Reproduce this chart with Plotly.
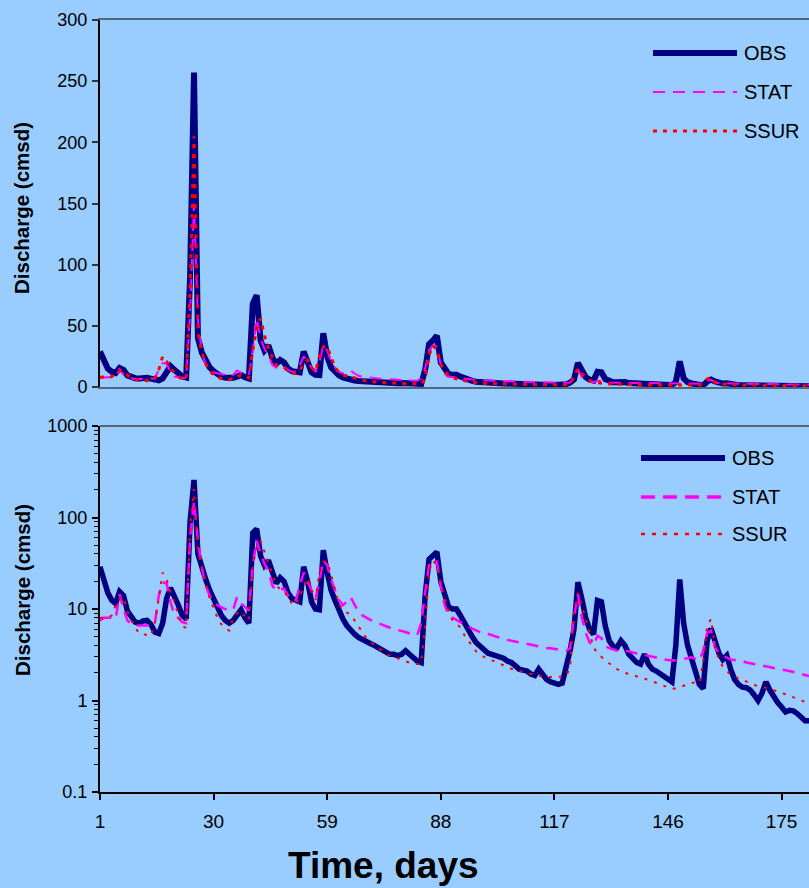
import plotly.graph_objects as go

# ---------------- data (daily discharge, cmsd) ----------------
days = list(range(1, 183))

obs = [29, 21, 15, 12.5, 11.5, 15.5, 14, 9.5, 8, 7.2,
       7, 7.4, 7.5, 6.8, 5.6, 5.4, 7, 13, 17, 14,
       11, 8.5, 7.8, 90, 257, 40, 28, 21, 16, 13,
       10.5, 8.5, 7.5, 7, 7.5, 8.5, 9.8, 8, 7, 68,
       75, 38, 30, 34, 24, 19, 22, 20, 15, 13,
       12.5, 12, 29, 20, 12, 10, 9.8, 44, 25, 16,
       12.4, 9.5, 7.8, 6.6, 5.8, 5.3, 4.9, 4.6, 4.4, 4.2,
       4, 3.8, 3.6, 3.3, 3.2, 3.2, 3.1, 3.2, 3.5, 3.2,
       2.9, 2.7, 2.6, 14, 35, 38, 42, 20, 14, 10.5,
       10, 10, 8.5, 7, 6, 5, 4.3, 3.9, 3.6, 3.3,
       3.2, 3.1, 3.1, 2.9, 2.7, 2.6, 2.4, 2.2, 2.15, 2.1,
       1.95, 1.88, 2.2, 1.95, 1.7, 1.6, 1.55, 1.5, 1.55, 2.3,
       3.5, 6, 19.6, 13, 8, 6, 5.3, 12.4, 12, 6.5,
       4.5, 3.9, 3.8, 4.5, 4, 3.2, 2.9, 2.6, 2.5, 3.2,
       2.5, 2.2, 2.1, 1.95, 1.8, 1.7, 1.6, 4, 21, 7,
       4, 2.9, 2, 1.5, 1.35, 4.5, 6.1, 4.5, 3.3, 2.8,
       3.1, 2.2, 1.7, 1.5, 1.4, 1.38, 1.3, 1.15, 1.0, 1.2,
       1.6, 1.3, 1.1, 0.95, 0.85, 0.75, 0.78, 0.77, 0.72, 0.65,
       0.6, 0.6]

stat = [7.5, 8, 8, 8, 7.8, 14.5, 10, 7.5, 6.9, 6.6,
        6.6, 6.6, 6.6, 6.8, 7, 14, 19.6, 19, 12, 8.5,
        8, 7.2, 7, 60, 150, 55, 28, 18, 14, 12,
        11, 10.4, 10, 9.6, 9.8, 13.5, 11.5, 10.4, 9.6, 30,
        56, 40, 31, 26, 18, 15.9, 16.5, 16.6, 14, 12.4,
        12.4, 18, 25, 20, 15.9, 12.9, 20, 34, 30, 21,
        16, 12.5, 11, 12, 13.5, 11, 9.2, 8.5, 8, 7.6,
        7.3, 7, 6.8, 6.5, 6.2, 6, 5.9, 5.8, 5.6, 5.4,
        5.2, 5.2, 7, 15, 30, 34, 33, 18, 11, 8.5,
        8.1, 7.6, 7.2, 6.9, 6.5, 6.1, 5.8, 5.6, 5.45, 5.35,
        5.2, 5.0, 4.9, 4.75, 4.6, 4.5, 4.45, 4.35, 4.25, 4.15,
        4.05, 4.0, 3.9, 3.8, 3.75, 3.72, 3.68, 3.62, 3.55, 3.5,
        3.7, 8, 14.6, 8.1, 5.5, 4.3, 4.0, 5.1, 4.8, 3.9,
        3.75, 3.6, 3.5, 3.5, 3.5, 3.45, 3.35, 3.28, 3.22, 3.15,
        3.1, 3.0, 2.95, 2.85, 2.8, 2.75, 2.73, 2.75, 2.78, 2.85,
        2.9, 2.97, 2.85, 2.73, 3.5, 5.5, 5.8, 3.8, 3.3, 3.1,
        2.95, 2.8, 2.76, 2.72, 2.7, 2.6, 2.55, 2.5, 2.47, 2.43,
        2.4, 2.35, 2.3, 2.25, 2.2, 2.15, 2.1, 2.05, 2.0, 1.95,
        1.9, 1.85]

ssur = [8, 8, 8, 8.5, 11, 13, 13.5, 9.5, 7.5, 6.3,
        5.4, 5.3, 5.2, 5.1, 7, 14, 25, 21, 15, 12,
        8.5, 6.5, 6.2, 80, 205, 45, 28, 19, 13, 10,
        8, 6.8, 6.1, 5.8, 8, 9, 9.6, 8.2, 7.5, 30,
        48, 56, 42, 32, 24, 18, 16.5, 16, 13, 11.5,
        11, 14, 18, 22, 16, 12.5, 25, 33, 33, 24,
        16, 11.5, 9.6, 9.2, 8.7, 7.5, 6.5, 5.5, 4.8, 4.4,
        4.1, 3.8, 3.5, 3.25, 3.1, 3.0, 2.9, 2.8, 2.7, 2.6,
        2.5, 2.5, 2.6, 6.3, 26, 34, 30, 18.5, 13, 9.5,
        7.5, 6.8, 6.3, 5.2, 4.5, 3.9, 3.45, 3.2, 3.0, 2.88,
        2.75, 2.62, 2.5, 2.4, 2.3, 2.22, 2.15, 2.1, 2.04, 1.99,
        1.93, 1.88, 1.85, 1.82, 1.8, 1.8, 1.8, 1.8, 1.82, 1.85,
        2.3, 9, 15, 11, 8, 5.5, 3.8, 3.3, 3.0, 2.75,
        2.5, 2.35, 2.2, 2.1, 2.0, 1.95, 1.9, 1.83, 1.78, 1.73,
        1.68, 1.62, 1.56, 1.5, 1.45, 1.38, 1.34, 1.35, 1.4, 1.45,
        1.5, 1.55, 1.58, 1.55, 2.7, 6.5, 7.8, 3.8, 2.8, 2.35,
        2.1, 1.92, 1.82, 1.75, 1.67, 1.6, 1.55, 1.48, 1.43, 1.4,
        1.38, 1.35, 1.3, 1.26, 1.22, 1.17, 1.12, 1.09, 1.05, 1.0,
        0.97, 0.94]

series_names = ["OBS", "STAT", "SSUR"]
x_ticks = [1, 30, 59, 88, 117, 146, 175]
y_ticks_lin = [0, 50, 100, 150, 200, 250, 300]
y_ticks_log = [0.1, 1, 10, 100, 1000]
y_ticks_log_text = ["0.1", "1", "10", "100", "1000"]
y_minor_log = [m * d for d in (0.1, 1, 10, 100) for m in range(2, 10)]

# ---------------- styling ----------------
W, H = 809, 888
ML, MT, MB = 100, 20, 96
PW, PH = W - ML, H - MT - MB
BG = "#99CCFF"
NAVY = "#000080"
MAG = "#FF00FF"
RED = "#FF0000"
FONT = "Liberation Sans, Arial, sans-serif"
FRAME = "#55657a"


def px(x):
    return (x - ML) / PW


def py(y):
    return (H - MB - y) / PH


fig = go.Figure()

styles_top = [dict(color=NAVY, width=6),
              dict(color=MAG, width=2, dash="12px,8px"),
              dict(color=RED, width=3, dash="4px,6px")]
styles_bot = [dict(color=NAVY, width=5.5),
              dict(color=MAG, width=2.5, dash="12px,8px"),
              dict(color=RED, width=2, dash="3px,7px")]

for name, vals, st in zip(series_names, [obs, stat, ssur], styles_top):
    fig.add_trace(go.Scatter(x=days, y=vals, mode="lines", name=name,
                             line=st, xaxis="x", yaxis="y", showlegend=False))
for name, vals, st in zip(series_names, [obs, stat, ssur], styles_bot):
    fig.add_trace(go.Scatter(x=days, y=vals, mode="lines", name=name,
                             line=st, xaxis="x2", yaxis="y2", showlegend=False))

top_dom = [py(387), py(20)]
bot_dom = [py(792), py(426)]

fig.update_layout(
    width=W, height=H,
    margin=dict(l=ML, r=0, t=MT, b=MB, pad=0),
    paper_bgcolor=BG, plot_bgcolor=BG,
    font=dict(family=FONT, color="black", size=18),
    showlegend=False,
    xaxis=dict(domain=[0, 1], range=[1, 182], showticklabels=False,
               showgrid=False, zeroline=False, showline=True,
               linecolor=FRAME, linewidth=2, mirror=True, ticks="",
               anchor="y"),
    yaxis=dict(domain=top_dom, range=[0, 300], tickvals=y_ticks_lin,
               ticks="outside", ticklen=6, tickwidth=1.5, tickcolor="#333",
               showgrid=False, zeroline=False, showline=True,
               linecolor="black", linewidth=2, anchor="x",
               tickfont=dict(size=18), ticklabelstandoff=1),
    xaxis2=dict(domain=[0, 1], range=[1, 182], tickvals=x_ticks,
                ticks="outside", ticklen=6, tickwidth=1.5, tickcolor="black",
                showgrid=False, zeroline=False, showline=True,
                linecolor="black", linewidth=2, anchor="y2",
                tickfont=dict(size=19), ticklabelstandoff=5),
    yaxis2=dict(domain=bot_dom, type="log", range=[-1, 3],
                tickvals=y_ticks_log, ticktext=y_ticks_log_text,
                ticks="outside", ticklen=6, tickwidth=1.5, tickcolor="black",
                minor=dict(tickvals=y_minor_log, ticks="outside", ticklen=4,
                           tickcolor="black", tickwidth=1, showgrid=False),
                showgrid=False, zeroline=False, showline=True,
                linecolor="black", linewidth=2, anchor="x2",
                tickfont=dict(size=18), ticklabelstandoff=1),
)

# top border of lower chart
fig.add_shape(type="line", xref="paper", yref="paper",
              x0=0, x1=1, y0=py(426), y1=py(426),
              line=dict(color=FRAME, width=2))

# manual legends
legend_specs = [
    (653, 737, 742, [53, 92, 131], styles_top),
    (641, 725, 730, [458, 497, 534], [dict(color=NAVY, width=6),
                                      dict(color=MAG, width=3.5, dash="14px,8px"),
                                      dict(color=RED, width=2.5, dash="4px,7px")]),
]
for x0, x1, xt, ys, sts in legend_specs:
    for name, yy, st in zip(series_names, ys, sts):
        fig.add_shape(type="line", xref="paper", yref="paper",
                      x0=px(x0), x1=px(x1), y0=py(yy), y1=py(yy), line=st)
        fig.add_annotation(x=px(xt), y=py(yy), xref="paper", yref="paper",
                           text=name, showarrow=False, xanchor="left",
                           yanchor="middle", font=dict(size=20))

# axis titles
for yc in [208, 590]:
    fig.add_annotation(x=px(22), y=py(yc), xref="paper", yref="paper",
                       text="<b>Discharge (cmsd)</b>", textangle=-90,
                       showarrow=False, xanchor="center", yanchor="middle",
                       font=dict(size=20.5))
fig.add_annotation(x=px(383), y=py(866), xref="paper", yref="paper",
                   text="<b>Time, days</b>", showarrow=False,
                   xanchor="center", yanchor="middle", font=dict(size=37))

fig.write_html("out.html")
